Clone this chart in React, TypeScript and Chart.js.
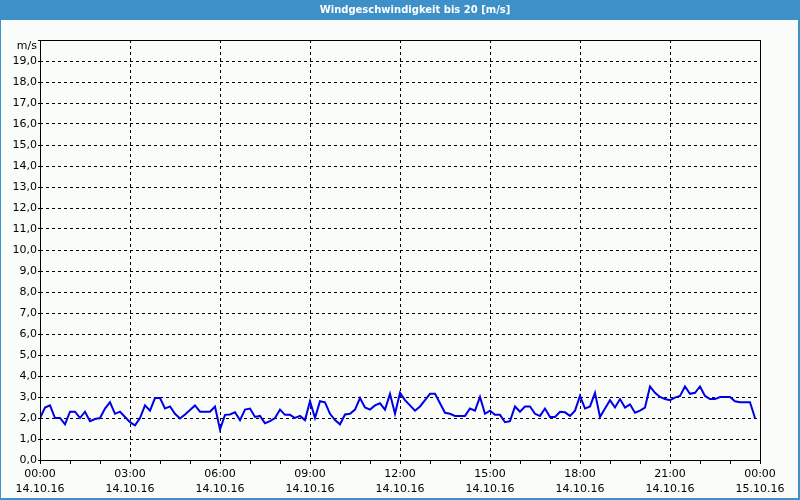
import React, { useEffect, useRef } from "react";
import { Chart, registerables } from "chart.js";

Chart.register(...registerables);

const TITLE = "Windgeschwindigkeit bis 20 [m/s]";
const Y_UNIT = "m/s";
const START_DATE = "14.10.16";
const END_DATE = "15.10.16";
const SAMPLE_MINUTES = 10;

// wind speed [m/s], one value every 10 minutes from 14.10.16 00:00
const windSpeed: number[] = [
  2.0, 2.5, 2.6, 2.0, 2.0, 1.7, 2.3, 2.3, 2.0, 2.3,
  1.85, 1.95, 2.0, 2.45, 2.75, 2.2, 2.3, 2.05, 1.8, 1.65,
  2.0, 2.6, 2.35, 2.95, 2.95, 2.45, 2.55, 2.2, 1.98, 2.17,
  2.38, 2.6, 2.3, 2.3, 2.3, 2.55, 1.45, 2.15, 2.17, 2.27,
  1.9, 2.4, 2.45, 2.05, 2.1, 1.75, 1.85, 2.0, 2.4, 2.15,
  2.15, 2.0, 2.1, 1.9, 2.8, 2.0, 2.8, 2.75, 2.2, 1.9,
  1.7, 2.17, 2.2, 2.4, 2.95, 2.5, 2.4, 2.6, 2.7, 2.4,
  3.15, 2.2, 3.2, 2.85, 2.6, 2.35, 2.55, 2.85, 3.15, 3.15,
  2.7, 2.25, 2.2, 2.1, 2.1, 2.1, 2.45, 2.35, 3.0, 2.2,
  2.35, 2.15, 2.15, 1.8, 1.85, 2.55, 2.3, 2.55, 2.55, 2.2,
  2.1, 2.45, 2.05, 2.05, 2.3, 2.27, 2.1, 2.35, 3.05, 2.45,
  2.55, 3.2, 2.05, 2.45, 2.85, 2.5, 2.9, 2.5, 2.65, 2.25,
  2.35, 2.5, 3.5, 3.2, 3.0, 2.9, 2.85, 2.97, 3.05, 3.5,
  3.15, 3.2, 3.5, 3.05, 2.9, 2.9, 3.0, 3.0, 3.0, 2.8,
  2.75, 2.75, 2.75, 2.0,
];

const Y_MIN = 0;
const Y_MAX = 20;
const X_MAX_HOURS = 24;

const FONT = "'DejaVu Sans', Verdana, sans-serif";

const framePlugin = {
  id: "frame",
  beforeDraw(chart: any) {
    const { ctx, width, height } = chart;
    ctx.save();
    ctx.fillStyle = "#3d90c8";
    ctx.fillRect(0, 0, width, height);
    ctx.fillStyle = "#fafcf9";
    ctx.fillRect(1, 20, width - 3, height - 22);
    ctx.fillStyle = "#ffffff";
    ctx.font = "bold 10px " + FONT;
    ctx.textAlign = "center";
    ctx.textBaseline = "middle";
    ctx.fillText(TITLE, 415, 10);
    ctx.restore();
  },
  afterDraw(chart: any) {
    const { ctx, chartArea } = chart;
    ctx.save();
    ctx.strokeStyle = "#000";
    ctx.lineWidth = 1;
    ctx.setLineDash([]);
    ctx.strokeRect(
      Math.round(chartArea.left) + 0.5,
      Math.round(chartArea.top) + 0.5,
      Math.round(chartArea.right - chartArea.left),
      Math.round(chartArea.bottom - chartArea.top)
    );
    ctx.fillStyle = "#000";
    ctx.font = "11px " + FONT;
    ctx.textAlign = "right";
    ctx.textBaseline = "middle";
    ctx.fillText(Y_UNIT, chartArea.left - 3, chartArea.top + 6);
    ctx.restore();
  },
};

export default function App() {
  const ref = useRef<HTMLCanvasElement>(null);

  useEffect(() => {
    if (!ref.current) return;
    const points = windSpeed.map((v, i) => ({ x: (i * SAMPLE_MINUTES) / 60, y: v }));
    const chart = new Chart(ref.current, {
      type: "line",
      data: {
        datasets: [
          {
            data: points,
            borderColor: "#0000e8",
            borderWidth: 2,
            pointRadius: 0,
            tension: 0,
            fill: false,
          },
        ],
      },
      options: {
        animation: false,
        responsive: false,
        layout: { padding: { left: 0, right: 40, top: 40, bottom: 0 } },
        plugins: {
          legend: { display: false },
          tooltip: { enabled: false },
          title: { display: false },
        },
        scales: {
          x: {
            type: "linear",
            min: 0,
            max: X_MAX_HOURS,
            afterFit(scale: any) {
              scale.height = 40;
            },
            ticks: {
              stepSize: 1,
              autoSkip: false,
              maxRotation: 0,
              minRotation: 0,
              padding: 3,
              color: "#000",
              font: { family: FONT, size: 11, lineHeight: "15px" },
              callback: (value: any) => {
                const h = Number(value);
                if (h % 3 !== 0) return "";
                const hh = String(h % 24).padStart(2, "0") + ":00";
                return [hh, h >= 24 ? END_DATE : START_DATE];
              },
            },
            grid: {
              color: (ctx: any) =>
                ctx.tick && ctx.tick.value % 3 === 0 ? "#000" : "rgba(0,0,0,0)",
              lineWidth: 1,
              drawTicks: true,
              tickLength: 4,
              tickColor: "#000",
              tickBorderDash: [],
            },
            border: { display: false, dash: [3, 3] },
          },
          y: {
            min: Y_MIN,
            max: Y_MAX,
            afterFit(scale: any) {
              scale.width = 40;
            },
            ticks: {
              stepSize: 1,
              autoSkip: false,
              padding: 1,
              color: "#000",
              font: { family: FONT, size: 11 },
              callback: (value: any) => {
                const v = Number(value);
                if (v === Y_MAX) return "";
                return v.toFixed(1).replace(".", ",");
              },
            },
            grid: {
              color: "#000",
              lineWidth: 1,
              drawTicks: true,
              tickLength: 2,
              tickColor: "#000",
              tickBorderDash: [],
            },
            border: { display: false, dash: [3, 3] },
          },
        },
      },
      plugins: [framePlugin],
    });
    return () => chart.destroy();
  }, []);

  return (
    <canvas
      ref={ref}
      width={800}
      height={500}
      style={{ position: "fixed", left: 0, top: 0, width: 800, height: 500 }}
    />
  );
}
